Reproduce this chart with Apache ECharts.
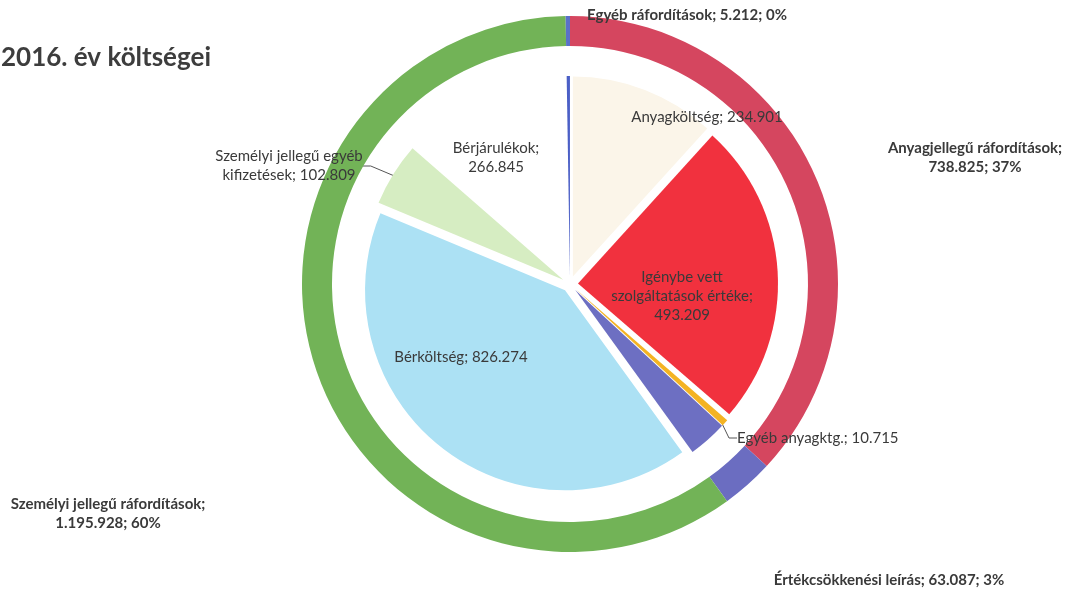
<!DOCTYPE html>
<html>
<head>
<meta charset="utf-8">
<title>2016. év költségei</title>
<script src="https://cdn.jsdelivr.net/npm/echarts@6/dist/echarts.min.js"></script>
<style>
  html, body { margin: 0; padding: 0; background: #fff; }
  #chart { width: 1069px; height: 596px; }
</style>
</head>
<body>
<div id="chart"></div>
<script>
// adatok (ezer Ft)
const innerNames = [
  'Anyagköltség',
  'Igénybe vett\nszolgáltatások értéke',
  'Egyéb anyagktg.',
  'Értékcsökkenési leírás',
  'Bérköltség',
  'Személyi jellegű egyéb\nkifizetések',
  'Bérjárulékok',
  'Egyéb ráfordítások'
];
const innerValues = [234901, 493209, 10715, 63087, 826274, 102809, 266845, 5212];

const outerNames = [
  'Anyagjellegű ráfordítások',
  'Értékcsökkenési leírás',
  'Személyi jellegű ráfordítások',
  'Egyéb ráfordítások'
];
const outerValues = [738825, 63087, 1195928, 5212];

// színek
const innerColors = ['#fbf5e9', '#f1313e', '#f4b323', '#6d6fc2', '#ace1f4', '#d6edc2', '#ffffff', '#4b5fc6'];
const outerColors = ['#d5465f', '#6b6dc1', '#72b357', '#5a70c9'];

// melyik címkénél megy új sorba az érték
const valueOnNewLine = ['Igénybe vett\nszolgáltatások értéke', 'Bérjárulékok', 'Anyagjellegű ráfordítások', 'Személyi jellegű ráfordítások'];
const noInnerLabel = ['Értékcsökkenési leírás', 'Egyéb ráfordítások'];
const withLeader = ['Egyéb anyagktg.', 'Személyi jellegű egyéb\nkifizetések'];

// címkék helye
const innerLabelPos = {
  'Anyagköltség': [707, 117, 'center'],
  'Igénybe vett\nszolgáltatások értéke': [682, 296, 'center'],
  'Egyéb anyagktg.': [737, 438, 'left'],
  'Bérköltség': [461, 357, 'center'],
  'Személyi jellegű egyéb\nkifizetések': [289, 166, 'center'],
  'Bérjárulékok': [496, 158, 'center']
};
const outerLabelPos = {
  'Anyagjellegű ráfordítások': [975, 158],
  'Értékcsökkenési leírás': [889, 580],
  'Személyi jellegű ráfordítások': [108, 514],
  'Egyéb ráfordítások': [687, 15]
};

const fmt = (v) => String(v).replace(/\B(?=(\d{3})+(?!\d))/g, '.');
const textColor = '#3a3a3a';
const font = 'Lato, "Open Sans", sans-serif';
const center = [570, 284];

// kirobbantott szeletek
const innerData = innerNames.map((name, i) => ({
  name,
  value: innerValues[i],
  selected: true,
  itemStyle: { color: innerColors[i] }
}));

// ugyanaz az adat, csak a címkéknek (a kijelölt állapot felülírná a helyüket)
const innerLabelData = innerNames.map((name, i) => ({
  name,
  value: innerValues[i],
  label: { show: !noInnerLabel.includes(name) },
  labelLine: { show: withLeader.includes(name) }
}));

const outerData = outerNames.map((name, i) => ({
  name,
  value: outerValues[i],
  itemStyle: { color: outerColors[i] }
}));

const chart = echarts.init(document.getElementById('chart'), null, { renderer: 'canvas' });

chart.setOption({
  animation: false,
  title: {
    text: '2016. év költségei',
    left: -4,
    top: 40,
    textStyle: { fontFamily: font, fontWeight: 'bold', fontSize: 26, color: '#3d3d3d' }
  },
  series: [
    {
      name: 'Költségnemek',
      type: 'pie',
      center,
      radius: [0, 200],
      startAngle: 90,
      selectedMode: 'multiple',
      selectedOffset: 8,
      silent: true,
      emphasis: { disabled: true },
      label: { show: false },
      labelLine: { show: false },
      data: innerData
    },
    {
      name: 'Címkék',
      type: 'pie',
      center,
      radius: [0, 200],
      startAngle: 90,
      silent: true,
      avoidLabelOverlap: false,
      emphasis: { disabled: true },
      itemStyle: { color: 'rgba(0,0,0,0)' },
      data: innerLabelData,
      label: {
        position: 'outside',
        color: textColor,
        fontFamily: font,
        fontSize: 15,
        lineHeight: 19,
        formatter: (p) => p.name + ';' + (valueOnNewLine.includes(p.name) ? '\n' : ' ') + fmt(p.value)
      },
      labelLine: {
        length: 6,
        length2: 8,
        lineStyle: { color: '#555', width: 1 }
      },
      labelLayout: (p) => {
        const pos = innerLabelPos[innerNames[p.dataIndex]];
        if (!pos) return {};
        return { x: pos[0], y: pos[1], align: pos[2], verticalAlign: 'middle' };
      }
    },
    {
      name: 'Költségcsoportok',
      type: 'pie',
      center,
      radius: [238, 268],
      startAngle: 90,
      silent: true,
      avoidLabelOverlap: false,
      emphasis: { disabled: true },
      data: outerData,
      label: {
        position: 'outside',
        color: textColor,
        fontFamily: font,
        fontWeight: 'bold',
        fontSize: 15,
        lineHeight: 19,
        formatter: (p) => p.name + ';' + (valueOnNewLine.includes(p.name) ? '\n' : ' ') +
          fmt(p.value) + '; ' + Math.round(p.percent) + '%'
      },
      labelLine: { show: false },
      labelLayout: (p) => {
        const pos = outerLabelPos[outerNames[p.dataIndex]];
        return { x: pos[0], y: pos[1], align: 'center', verticalAlign: 'middle' };
      }
    }
  ]
});
</script>
</body>
</html>
